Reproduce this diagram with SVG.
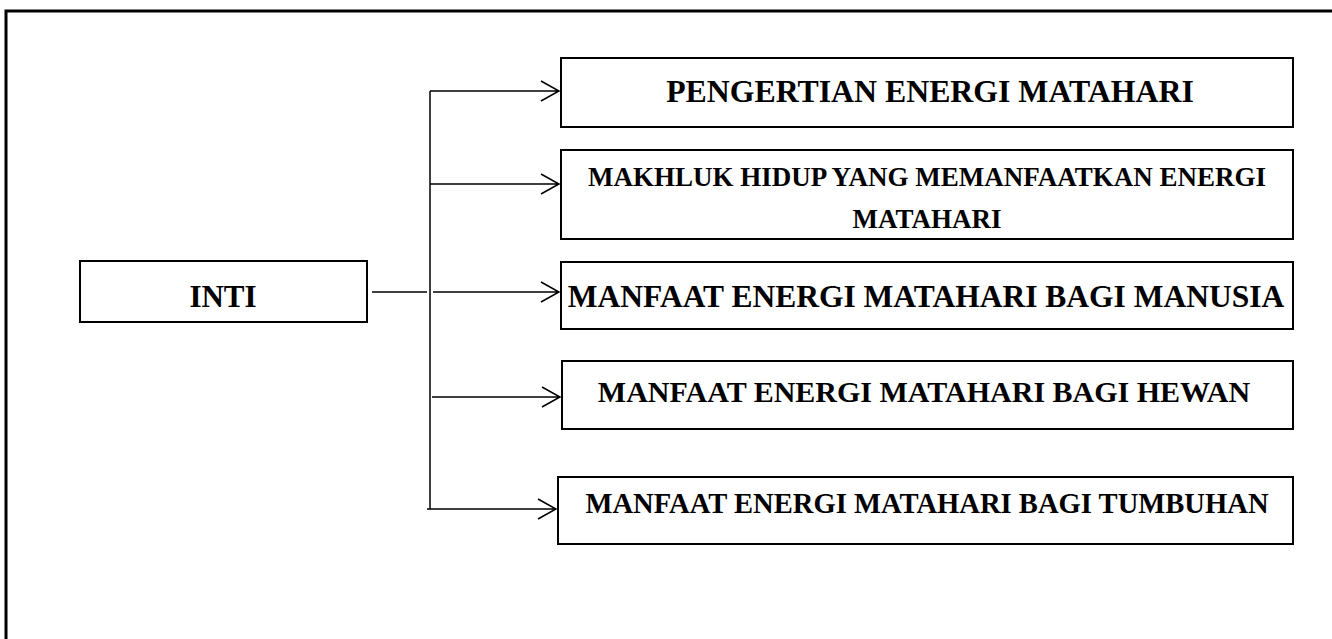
<svg xmlns="http://www.w3.org/2000/svg" width="1332" height="639" viewBox="0 0 1332 639">
  <style>
    .box { fill: #fff; stroke: #000; stroke-width: 2; }
    .lbl { font-family: "Liberation Serif", "Times New Roman", serif; font-weight: bold; fill: #000; text-anchor: middle; }
    .wire { fill: none; stroke: #000; stroke-width: 1.5; }
  </style>
  <rect width="1332" height="639" fill="#fff"/>
  <!-- page frame: top and left edges -->
  <path d="M6 639 V11 H1332" fill="none" stroke="#000" stroke-width="3"/>

  <g id="connectors">
    <path class="wire" d="M430 91 V509"/>
    <path class="wire" d="M430 91 H559 M541 81 L559 91 L541 101"/>
    <path class="wire" d="M430 184 H559 M541 174 L559 184 L541 194"/>
    <path class="wire" d="M372 292 H427 M433 292 H559 M541 282 L559 292 L541 302"/>
    <path class="wire" d="M432 397 H560 M542 387 L560 397 L542 407"/>
    <path class="wire" d="M427 509 H556 M538 499 L556 509 L538 519"/>
  </g>

  <g id="inti">
    <rect class="box" x="80" y="261" width="287" height="61"/>
    <text class="lbl" x="223" y="307" font-size="31">INTI</text>
  </g>
  <g id="pengertian">
    <rect class="box" x="561" y="58" width="732" height="69"/>
    <text class="lbl" x="930" y="102" font-size="31.8">PENGERTIAN ENERGI MATAHARI</text>
  </g>
  <g id="makhluk-hidup">
    <rect class="box" x="561" y="150" width="732" height="89"/>
    <text class="lbl" x="927" y="186" font-size="27">MAKHLUK HIDUP YANG MEMANFAATKAN ENERGI</text>
    <text class="lbl" x="927" y="228" font-size="27">MATAHARI</text>
  </g>
  <g id="manfaat-manusia">
    <rect class="box" x="561" y="262" width="732" height="67"/>
    <text class="lbl" x="926" y="307" font-size="31.5">MANFAAT ENERGI MATAHARI BAGI MANUSIA</text>
  </g>
  <g id="manfaat-hewan">
    <rect class="box" x="562" y="361" width="731" height="68"/>
    <text class="lbl" x="924" y="402" font-size="30">MANFAAT ENERGI MATAHARI BAGI HEWAN</text>
  </g>
  <g id="manfaat-tumbuhan">
    <rect class="box" x="558" y="477" width="735" height="67"/>
    <text class="lbl" x="927" y="513" font-size="28.6">MANFAAT ENERGI MATAHARI BAGI TUMBUHAN</text>
  </g>
</svg>
